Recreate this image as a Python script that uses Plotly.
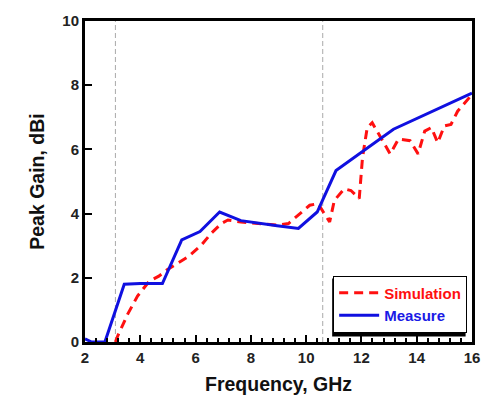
import plotly.graph_objects as go

# Measured peak gain
freq_meas = [2.0, 2.24, 2.72, 3.42, 4.0, 4.8, 5.5, 6.16, 6.87, 7.64, 8.95, 9.72, 10.4, 11.08, 13.16, 16.0]
gain_meas = [0.1, 0.0, 0.0, 1.8, 1.82, 1.82, 3.18, 3.44, 4.05, 3.78, 3.62, 3.54, 4.05, 5.34, 6.63, 7.75]

# Simulated peak gain
freq_sim = [3.1, 3.19, 3.54, 3.9, 4.32, 4.67, 4.97, 5.74, 6.21, 6.57, 6.93, 7.17, 7.64, 8.95, 9.36,
            9.78, 10.13, 10.43, 10.85, 11.02, 11.38, 11.62, 11.92, 12.04, 12.21, 12.39, 12.92, 13.04,
            13.34, 13.76, 14.05, 14.29, 14.53, 14.76, 15.0, 15.24, 15.48, 16.0]
gain_sim = [0.0, 0.2, 0.86, 1.43, 1.89, 2.05, 2.25, 2.66, 3.02, 3.39, 3.69, 3.8, 3.74, 3.64, 3.69,
            4.0, 4.26, 4.31, 3.74, 4.41, 4.77, 4.72, 4.47, 5.75, 6.68, 6.83, 6.01, 5.86,
            6.32, 6.27, 5.86, 6.57, 6.68, 6.21, 6.73, 6.78, 7.19, 7.71]

# UWB band markers
band_edges = [3.1, 10.6]

x_ticks = [2, 4, 6, 8, 10, 12, 14, 16]
y_ticks = [0, 2, 4, 6, 8, 10]

FONT = "Liberation Sans, Arial, sans-serif"

# plot area in pixels (for paper-coordinate conversion of the legend shadow)
PL, PR, PT, PB = 85, 478, 19, 343
def px_x(p):
    return (p - PL) / (PR - PL)
def px_y(p):
    return (PB - p) / (PB - PT)

fig = go.Figure()
fig.add_trace(go.Scatter(
    x=freq_sim, y=gain_sim, mode="lines",
    name='<span style="color:#ff1010">Simulation</span>',
    line=dict(color="#ff1010", width=3, dash="9px,6px"),
))
fig.add_trace(go.Scatter(
    x=freq_meas, y=gain_meas, mode="lines",
    name='<span style="color:#1a1ae6">Measure</span>',
    line=dict(color="#1010e0", width=3),
))

for xb in band_edges:
    fig.add_shape(type="line", xref="x", yref="paper", x0=xb, x1=xb, y0=0, y1=1,
                  line=dict(color="#aaaaaa", width=1, dash="5px,3px"), layer="below")

# legend drop shadow
fig.add_shape(type="rect", xref="paper", yref="paper",
              x0=px_x(336), x1=px_x(471.5), y0=px_y(337.5), y1=px_y(279),
              line=dict(width=0), fillcolor="black", layer="above")

axis_common = dict(
    showline=True, linecolor="black", linewidth=3, mirror=True,
    ticks="inside", tickcolor="black", tickwidth=2, ticklen=7,
    showgrid=False, zeroline=False,
    tickfont=dict(family=FONT, size=15, color="#222222", weight="bold"),
)

fig.update_xaxes(
    range=[2, 16], tickvals=x_ticks, ticktext=[str(v) for v in x_ticks],
    minor=dict(dtick=0.4, tick0=2, ticks="inside", ticklen=4, tickwidth=2, tickcolor="black"),
    title=dict(text="Frequency, GHz", font=dict(family=FONT, size=19.5, color="#111111", weight="bold"), standoff=13),
    **axis_common,
)
fig.update_yaxes(
    range=[0, 10], tickvals=y_ticks, ticktext=[str(v) for v in y_ticks],
    title=dict(text="Peak Gain, dBi", font=dict(family=FONT, size=19.5, color="#111111", weight="bold"), standoff=13),
    **axis_common,
)

fig.update_layout(
    width=492, height=405,
    margin=dict(l=PL, r=492 - PR, t=PT, b=405 - PB),
    paper_bgcolor="white", plot_bgcolor="white",
    showlegend=True,
    legend=dict(
        x=px_x(337), y=px_y(276), xanchor="left", yanchor="top",
        bgcolor="white", bordercolor="black", borderwidth=1,
        font=dict(family=FONT, size=15, weight="bold"),
        tracegroupgap=0, itemwidth=40,
    ),
)

fig.write_html("out.html")
